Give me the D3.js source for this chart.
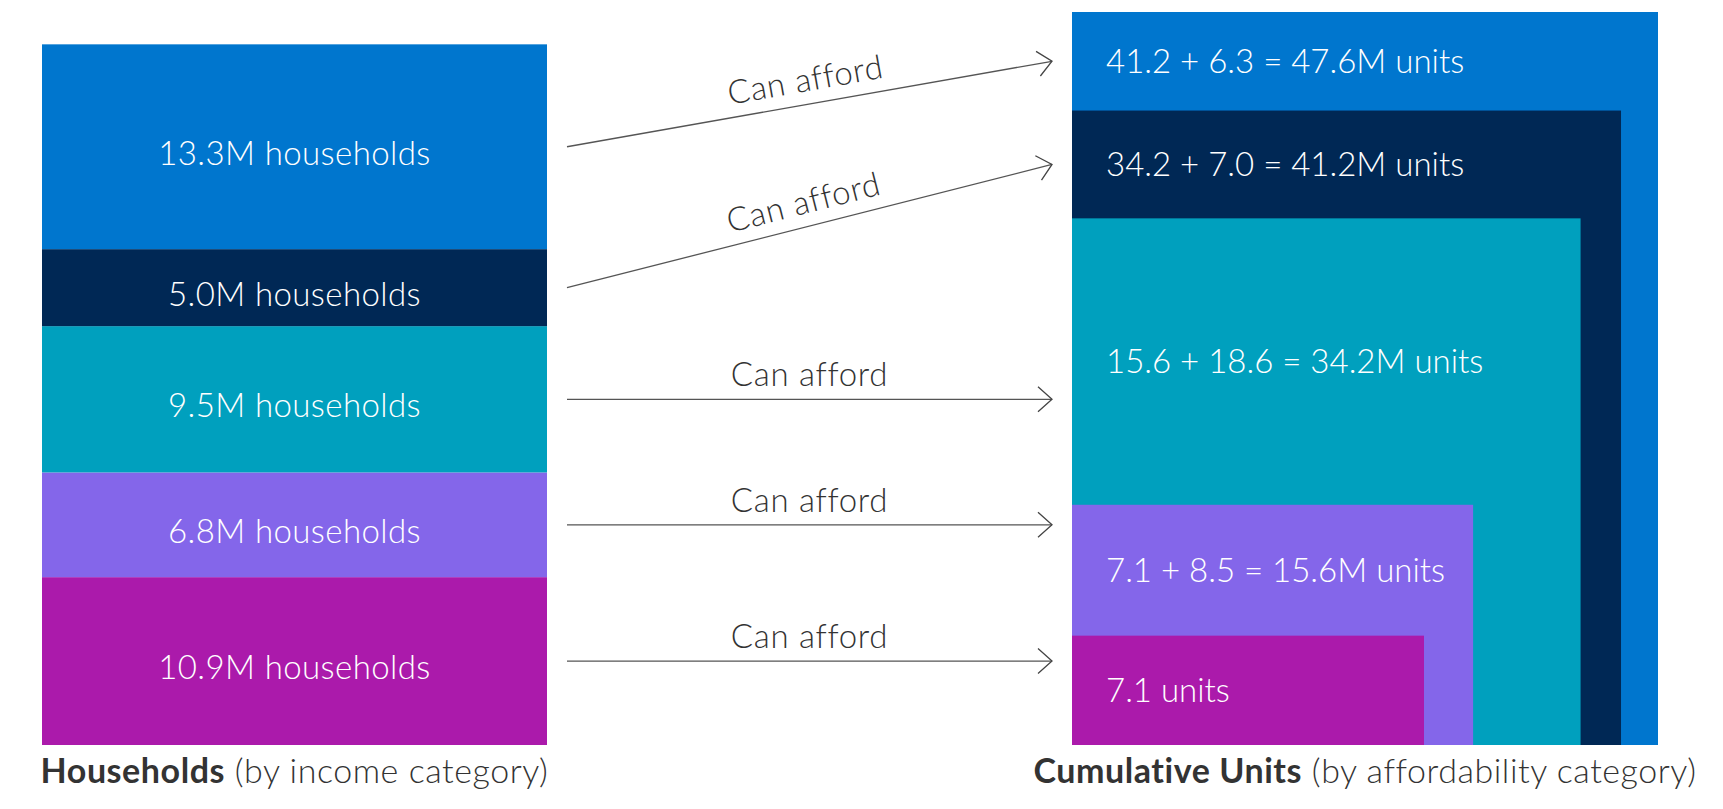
<!DOCTYPE html>
<html>
<head>
<meta charset="utf-8">
<script src="https://cdn.jsdelivr.net/npm/d3@7"></script>
<style>
  html, body { margin: 0; padding: 0; background: #fff; }
  svg text { font-family: Lato, "Open Sans", sans-serif; }
</style>
</head>
<body>
<svg id="chart" width="1723" height="809"></svg>
<script>
// income tiers, lowest first (bottom of the stack)
const tiers = ["Tier 1", "Tier 2", "Tier 3", "Tier 4", "Tier 5"];
const households = [10.9, 6.8, 9.5, 5.0, 13.3];
const cumulativeUnits = [7.1, 15.6, 34.2, 41.2, 47.6];
const householdLabels = ["10.9M households", "6.8M households", "9.5M households", "5.0M households", "13.3M households"];
const unitLabels = ["7.1 units", "7.1 + 8.5 = 15.6M units", "15.6 + 18.6 = 34.2M units", "34.2 + 7.0 = 41.2M units", "41.2 + 6.3 = 47.6M units"];
const arrowLabel = "Can afford";
const tierColors = ["#ab1aab", "#8466ea", "#00a0be", "#002855", "#0076ce"];

const svg = d3.select("#chart");
const plotBottom = 745, plotTop = 12;
const leftX = 42, leftW = 505;
const rightX = 1072;
const gap = 20;

const y = d3.scaleLinear()
  .domain([0, d3.max(cumulativeUnits)])
  .range([plotBottom, plotTop]);

const w = d3.scaleLinear()
  .domain(d3.extent(cumulativeUnits))
  .range([352, 586]);

const color = d3.scaleOrdinal().domain(tiers).range(tierColors);

// stacked households
let acc = 0;
const stack = households.map((v, i) => {
  const d = { tier: tiers[i], v, y0: acc, y1: acc + v, label: householdLabels[i] };
  acc += v;
  return d;
});

const left = svg.append("g");
left.selectAll("rect")
  .data(stack)
  .enter().append("rect")
  .attr("x", leftX)
  .attr("width", leftW)
  .attr("y", d => y(d.y1))
  .attr("height", d => y(d.y0) - y(d.y1))
  .attr("fill", d => color(d.tier));

left.selectAll("text")
  .data(stack)
  .enter().append("text")
  .attr("x", leftX + leftW / 2)
  .attr("y", d => (y(d.y0) + y(d.y1)) / 2)
  .attr("dy", "0.55em")
  .attr("text-anchor", "middle")
  .attr("fill", "#fff")
  .style("font-size", "33px")
  .style("letter-spacing", "0.4px")
  .style("font-weight", 300)
  .text(d => d.label);

// nested cumulative units
const units = cumulativeUnits.map((v, i) => ({
  tier: tiers[i], v, prev: i ? cumulativeUnits[i - 1] : 0, label: unitLabels[i]
}));

const right = svg.append("g");
right.selectAll("rect")
  .data(units.slice().reverse())
  .enter().append("rect")
  .attr("x", rightX)
  .attr("y", d => y(d.v))
  .attr("width", d => w(d.v))
  .attr("height", d => plotBottom - y(d.v))
  .attr("fill", d => color(d.tier));

right.selectAll("text")
  .data(units)
  .enter().append("text")
  .attr("x", rightX + 34)
  .attr("y", d => (y(d.v) + y(d.prev)) / 2)
  .attr("dy", "0.36em")
  .attr("fill", "#fff")
  .style("font-size", "33px")
  .style("font-weight", 300)
  .text(d => d.label);

// arrows
svg.append("defs").append("marker")
  .attr("id", "head")
  .attr("markerUnits", "userSpaceOnUse")
  .attr("markerWidth", 18).attr("markerHeight", 28)
  .attr("refX", 16).attr("refY", 14)
  .attr("orient", "auto")
  .append("path")
  .attr("d", "M2,1.5 L16,14 L2,26.5")
  .attr("fill", "none")
  .attr("stroke", "#444")
  .attr("stroke-width", 1.3);

const arrows = stack.map((d, i) => {
  const y1 = (y(d.y0) + y(d.y1)) / 2;
  const u = units[i];
  const stripTop = y(u.v), stripBot = y(u.prev);
  const y2 = (y1 >= stripTop && y1 <= stripBot) ? y1 : (stripTop + stripBot) / 2;
  return { x1: leftX + leftW + gap, y1, x2: rightX - gap, y2 };
});

const ag = svg.append("g");
ag.selectAll("line")
  .data(arrows)
  .enter().append("line")
  .attr("x1", d => d.x1).attr("y1", d => d.y1)
  .attr("x2", d => d.x2).attr("y2", d => d.y2)
  .attr("stroke", "#555")
  .attr("stroke-width", 1.3)
  .attr("marker-end", "url(#head)");

ag.selectAll("text")
  .data(arrows)
  .enter().append("text")
  .attr("transform", d => {
    const a = Math.atan2(d.y2 - d.y1, d.x2 - d.x1) * 180 / Math.PI;
    return `translate(${(d.x1 + d.x2) / 2},${(d.y1 + d.y2) / 2}) rotate(${a})`;
  })
  .attr("y", -13)
  .attr("text-anchor", "middle")
  .attr("fill", "#333")
  .style("font-size", "33px")
  .style("letter-spacing", "0.7px")
  .style("font-weight", 300)
  .text(arrowLabel);

// titles
function title(x, bold, rest) {
  const t = svg.append("text")
    .attr("x", x)
    .attr("y", 783)
    .attr("text-anchor", "middle")
    .attr("fill", "#333")
    .style("font-size", "34px")
    .style("letter-spacing", "0.55px");
  t.append("tspan").style("font-weight", 700).text(bold);
  t.append("tspan").style("font-weight", 300).text(rest);
}
title(leftX + leftW / 2, "Households", " (by income category)");
title(rightX + w(d3.max(cumulativeUnits)) / 2, "Cumulative Units", " (by affordability category)");
</script>
</body>
</html>
